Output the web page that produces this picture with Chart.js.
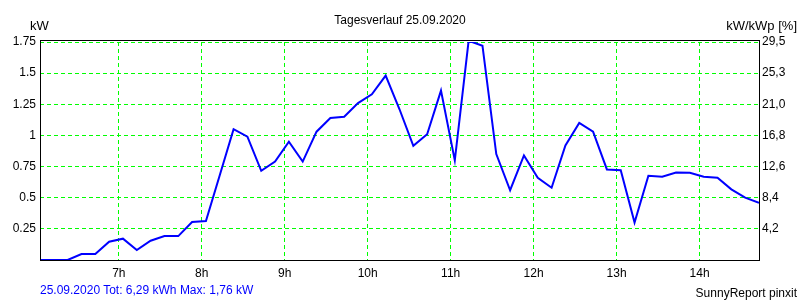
<!DOCTYPE html>
<html>
<head>
<meta charset="utf-8">
<script src="https://cdn.jsdelivr.net/npm/chart.js@4/dist/chart.umd.min.js"></script>
<style>
  html, body { margin: 0; padding: 0; background: #fff; }
  #wrap { position: relative; width: 800px; height: 300px; font-family: "Liberation Sans", Arial, sans-serif; }
  #c { position: absolute; left: 0; top: 0; }
  .txt { position: absolute; white-space: nowrap; color: #000; font-size: 12px; line-height: 14px; }
</style>
</head>
<body>
<div id="wrap">
  <canvas id="c" width="800" height="300"></canvas>
  <div class="txt" style="left:0; width:800px; text-align:center; top:13px;">Tagesverlauf 25.09.2020</div>
  <div class="txt" style="left:30px; top:19px; font-size:13px;">kW</div>
  <div class="txt" style="right:3px; top:19px; font-size:13px;">kW/kWp [%]</div>
  <div class="txt" style="left:40px; top:283px; color:#0000ff;">25.09.2020 Tot: 6,29 kWh Max: 1,76 kW</div>
  <div class="txt" style="right:3px; top:286px;">SunnyReport pinxit</div>
</div>
<script>
// 10-minute sample times
const times = ["06:03","06:13","06:23","06:33","06:43","06:53","07:03","07:13","07:23","07:33","07:43","07:53",
  "08:03","08:13","08:23","08:33","08:43","08:53","09:03","09:13","09:23","09:33","09:43","09:53",
  "10:03","10:13","10:23","10:33","10:43","10:53","11:03","11:13","11:23","11:33","11:43","11:53",
  "12:03","12:13","12:23","12:33","12:43","12:53","13:03","13:13","13:23","13:33","13:43","13:53",
  "14:03","14:13","14:23","14:33","14:43"];
// Power in kW
const powerKW = [0,0,0,0.048,0.048,0.147,0.171,0.08,0.155,0.192,0.192,0.305,
  0.313,0.68,1.05,0.99,0.716,0.79,0.95,0.79,1.03,1.14,1.15,1.26,
  1.33,1.48,1.21,0.917,1.01,1.36,0.80,1.76,1.72,0.85,0.56,0.84,
  0.66,0.58,0.92,1.10,1.03,0.727,0.72,0.30,0.676,0.668,0.703,0.70,
  0.668,0.66,0.567,0.50,0.46];
const hourTicks = [7,8,9,10,11,12,13,14];
const hourTickLabels = ["7h","8h","9h","10h","11h","12h","13h","14h"];
const leftTickLabels = ["","0.25","0.5","0.75","1","1.25","1.5","1.75"];
const rightTickLabels = ["","4,2","8,4","12,6","16,8","21,0","25,3","29,5"];

const toHours = t => { const [h, m] = t.split(":").map(Number); return h + m / 60; };
const points = times.map((t, i) => ({ x: toHours(t), y: powerKW[i] }));

const FONT = { family: "'Liberation Sans', Arial, sans-serif", size: 12 };
const GREEN = "#00ff00";

const framePlugin = {
  id: "frame",
  afterDraw(chart) {
    const { ctx, chartArea: a } = chart;
    ctx.save();
    ctx.strokeStyle = "#000";
    ctx.lineWidth = 1;
    ctx.setLineDash([]);
    ctx.strokeRect(Math.round(a.left) + 0.5, Math.round(a.top) - 1.5, Math.round(a.right - a.left), Math.round(a.bottom - a.top) + 2);
    ctx.restore();
  }
};

new Chart(document.getElementById("c"), {
  type: "line",
  data: {
    datasets: [{
      data: points,
      borderColor: "#0000ff",
      borderWidth: 2,
      pointRadius: 0,
      tension: 0,
      fill: false
    }]
  },
  options: {
    responsive: false,
    animation: false,
    events: [],
    layout: { padding: { top: 42, left: 0, right: 0, bottom: 0 } },
    plugins: { legend: { display: false }, tooltip: { enabled: false } },
    scales: {
      x: {
        type: "linear",
        min: toHours(times[0]),
        max: toHours(times[times.length - 1]),
        afterBuildTicks: s => { s.ticks = hourTicks.map(v => ({ value: v })); },
        afterFit: s => { s.height = 40; },
        ticks: {
          autoSkip: false,
          maxRotation: 0,
          padding: 6,
          color: "#000",
          font: FONT,
          callback: (v) => hourTickLabels[hourTicks.indexOf(v)] ?? ""
        },
        grid: { color: GREEN, lineWidth: 1, drawTicks: false },
        border: { display: false, dash: [4, 3] }
      },
      y: {
        position: "left",
        min: 0, max: 1.75,
        afterBuildTicks: s => { s.ticks = leftTickLabels.map((_, i) => ({ value: i * 0.25 })); },
        afterFit: s => { s.width = 40; },
        ticks: {
          padding: 4,
          color: "#000",
          font: FONT,
          callback: (v, i) => leftTickLabels[i]
        },
        grid: { color: (c) => c.index === 0 ? "rgba(0,0,0,0)" : GREEN, lineWidth: 1, drawTicks: false },
        border: { display: false, dash: [4, 3] }
      },
      y2: {
        position: "right",
        min: 0, max: 1.75,
        afterBuildTicks: s => { s.ticks = rightTickLabels.map((_, i) => ({ value: i * 0.25 })); },
        afterFit: s => { s.width = 41; },
        ticks: {
          padding: 3,
          color: "#000",
          font: FONT,
          callback: (v, i) => rightTickLabels[i]
        },
        grid: { display: false, drawTicks: false },
        border: { display: false }
      }
    }
  },
  plugins: [framePlugin]
});
</script>
</body>
</html>
